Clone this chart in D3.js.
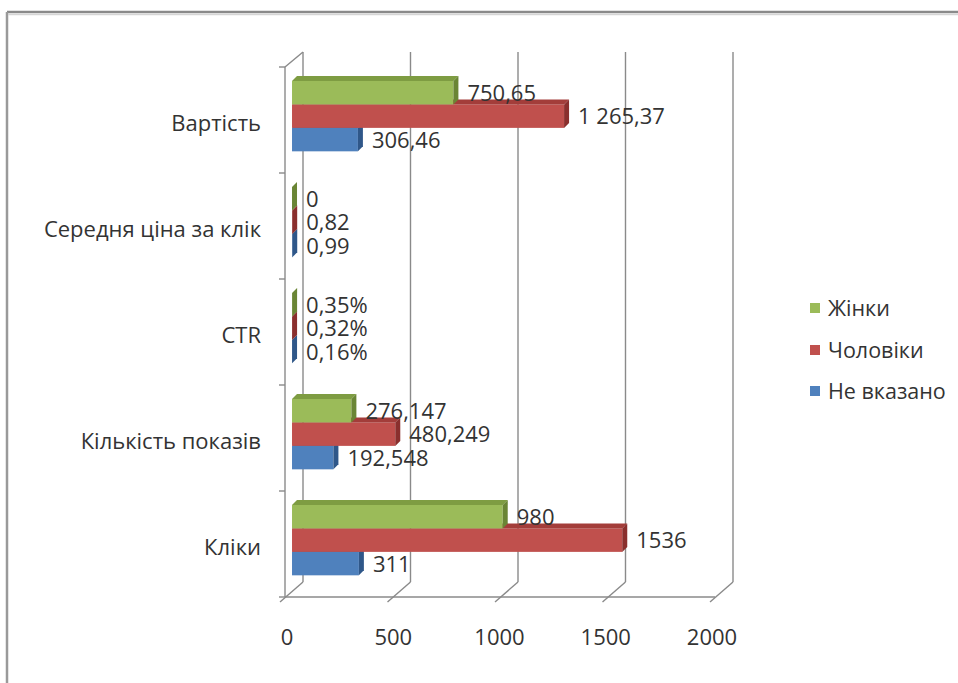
<!DOCTYPE html>
<html><head><meta charset="utf-8">
<script src="https://cdn.jsdelivr.net/npm/d3@7"></script>
<style>
html,body{margin:0;padding:0;background:#fff;}
svg{display:block;}
text{font-family:"Open Sans","Noto Sans",sans-serif;fill:#333;}
</style></head>
<body>
<svg id="chart" width="958" height="683"></svg>
<script>
const categories = ["Вартість","Середня ціна за клік","CTR","Кількість показів","Кліки"];
const seriesNames = ["Жінки","Чоловіки","Не вказано"];
const womenValues = [750.65, 0, 0.35, 276.147, 980];
const menValues   = [1265.37, 0.82, 0.32, 480.249, 1536];
const unknownValues = [306.46, 0.99, 0.16, 192.548, 311];
const womenLabels = ["750,65","0","0,35%","276,147","980"];
const menLabels   = ["1 265,37","0,82","0,32%","480,249","1536"];
const unknownLabels = ["306,46","0,99","0,16%","192,548","311"];
const xTicks = [0,500,1000,1500,2000];

const seriesColors = {
  "Жінки":     {front:"#9BBB59", top:"#7E9C42", side:"#6A8535"},
  "Чоловіки":  {front:"#C0504D", top:"#A33D3A", side:"#8A2F2D"},
  "Не вказано":{front:"#4F81BD", top:"#3E6DA5", side:"#2F5789"}
};
const seriesData = [
  {name:"Жінки", values:womenValues, labels:womenLabels},
  {name:"Чоловіки", values:menValues, labels:menLabels},
  {name:"Не вказано", values:unknownValues, labels:unknownLabels}
];

const svg = d3.select("#chart");
// frame
svg.append("line").attr("x1",7).attr("y1",12).attr("x2",958).attr("y2",12).attr("stroke","#8a8a8a").attr("stroke-width",2.5);
svg.append("line").attr("x1",7).attr("y1",12).attr("x2",7).attr("y2",683).attr("stroke","#9a9a9a").attr("stroke-width",2.5);
svg.append("line").attr("x1",8).attr("y1",14.5).attr("x2",958).attr("y2",14.5).attr("stroke","#d5d5d5").attr("stroke-width",1.5);

// geometry
const frontX0 = 285, frontX1 = 715, floorY = 597, topY = 67;
const depthDX = 18, depthDY = -15;
const x = d3.scaleLinear().domain([0,2000]).range([frontX0, frontX1]);
const y = d3.scaleBand().domain(categories).range([topY, floorY]);
const inner = d3.scaleBand().domain(seriesNames).range([0, y.bandwidth()]).paddingInner(0).paddingOuter(0.76);

const grid = svg.append("g").attr("stroke","#8a8a8a").attr("stroke-width",1.4).attr("fill","none");
xTicks.forEach(t => {
  grid.append("line").attr("x1",x(t)+depthDX).attr("x2",x(t)+depthDX)
    .attr("y1",topY+depthDY).attr("y2",floorY+depthDY);
  grid.append("line").attr("x1",x(t)-5).attr("y1",floorY+5)
    .attr("x2",x(t)+depthDX).attr("y2",floorY+depthDY);
});
grid.append("line").attr("x1",frontX0).attr("x2",frontX1).attr("y1",floorY).attr("y2",floorY);
grid.append("line").attr("x1",frontX0).attr("x2",frontX0).attr("y1",topY).attr("y2",floorY);
grid.append("line").attr("x1",frontX0).attr("y1",topY).attr("x2",frontX0+depthDX).attr("y2",topY+depthDY);
categories.forEach(c => {
  grid.append("line").attr("x1",frontX0-6).attr("x2",frontX0).attr("y1",y(c)).attr("y2",y(c));
});
grid.append("line").attr("x1",frontX0-6).attr("x2",frontX0).attr("y1",floorY).attr("y2",floorY);

// bars
const f = 0.39;
const bx = depthDX*f, by = depthDY*f + 2;
const bdx = 5, bdy = -5;
const barsG = svg.append("g");
const labelsG = svg.append("g");
categories.forEach((c,ci) => {
  seriesData.slice().reverse().forEach(s => {
    const col = seriesColors[s.name];
    const x0 = x(0)+bx, x1 = x(s.values[ci])+bx;
    const y0 = y(c)+inner(s.name)+by, h = inner.bandwidth();
    const g = barsG.append("g");
    g.append("rect").attr("x",x0).attr("y",y0).attr("width",Math.max(0,x1-x0)).attr("height",h).attr("fill",col.front);
    g.append("polygon").attr("points",[[x0,y0],[x0+bdx,y0+bdy],[x1+bdx,y0+bdy],[x1,y0]].map(p=>p.join(",")).join(" ")).attr("fill",col.top);
    g.append("polygon").attr("points",[[x1,y0],[x1+bdx,y0+bdy],[x1+bdx,y0+h+bdy],[x1,y0+h]].map(p=>p.join(",")).join(" ")).attr("fill",col.side);
    labelsG.append("text").attr("x",x1+14).attr("y",y0+h/2).attr("dy","0.36em")
      .attr("font-size",22).text(s.labels[ci]);
  });
});

// category labels
categories.forEach(c => {
  svg.append("text").attr("x",261).attr("y",y(c)+y.bandwidth()/2+3).attr("dy","0.36em")
    .attr("text-anchor","end").attr("font-size",22).text(c);
});
// x tick labels
xTicks.forEach(t => {
  svg.append("text").attr("x",x(t)+2-t*0.0025).attr("y",637).attr("dy","0.36em")
    .attr("text-anchor","middle").attr("font-size",22).text(t);
});
// legend
seriesNames.forEach((n,i) => {
  const ly = [308,350,391][i];
  svg.append("rect").attr("x",810).attr("y",ly-5).attr("width",10).attr("height",10).attr("fill",seriesColors[n].front);
  svg.append("text").attr("x",828).attr("y",ly).attr("dy","0.36em").attr("font-size",21.5).text(n);
});
</script>
</body></html>
